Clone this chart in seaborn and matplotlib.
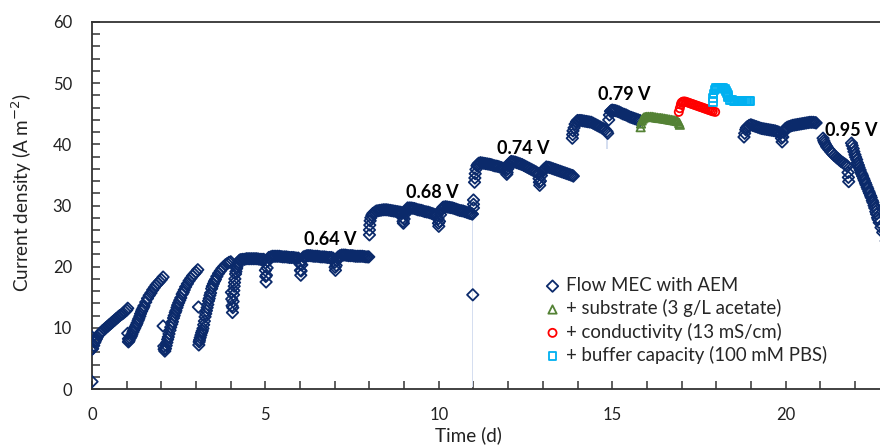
import pandas as pd
import matplotlib
matplotlib.use("Agg")
import matplotlib.pyplot as plt
from matplotlib.ticker import MultipleLocator
import seaborn as sns

# ---- data: time (d) and current density (A m-2) ----
# Flow MEC with AEM, one block per feeding cycle
c1_t = [0.0, 0.0, 0.0, 0.02, 0.05, 0.08, 0.1, 0.13, 0.15, 0.2, 0.25, 0.3, 0.35, 0.4, 0.45, 0.5, 0.55,
        0.6, 0.65, 0.7, 0.75, 0.8, 0.85, 0.9, 0.95, 1.0, 1.03]
c1_j = [1.2, 8.5, 6.5, 6.6, 7.1, 7.6, 7.9, 8.2, 8.5, 8.9, 9.2, 9.5, 9.75, 10.0, 10.25, 10.5, 10.75,
        11.0, 11.25, 11.5, 11.75, 12.0, 12.2, 12.4, 12.65, 12.9, 13.2]
c2_t = [1.03, 1.05, 1.05, 1.07, 1.1, 1.13, 1.15, 1.18, 1.2, 1.23, 1.25, 1.28, 1.3, 1.33, 1.35, 1.38,
        1.4, 1.43, 1.45, 1.48, 1.5, 1.55, 1.6, 1.65, 1.7, 1.75, 1.8, 1.85, 1.9, 1.95, 2.0, 2.05]
c2_j = [9.1, 7.7, 8.2, 7.9, 8.3, 8.6, 8.9, 9.3, 9.6, 9.9, 10.2, 10.5, 10.8, 11.2, 11.5, 11.9,
        12.3, 12.7, 13.0, 13.3, 13.6, 14.2, 14.8, 15.3, 15.7, 16.2, 16.6, 17.0, 17.3, 17.6, 17.9, 18.3]
c3_t = [2.05, 2.07, 2.08, 2.1, 2.12, 2.14, 2.16, 2.18, 2.2, 2.22, 2.25, 2.27, 2.3, 2.32, 2.35, 2.37,
        2.4, 2.42, 2.45, 2.47, 2.5, 2.53, 2.56, 2.6, 2.63, 2.66, 2.7, 2.75, 2.8, 2.85, 2.9, 2.95, 3.0, 3.05]
c3_j = [10.3, 7.0, 6.5, 6.2, 6.6, 7.1, 7.6, 8.1, 8.5, 9.0, 9.6, 10.1, 10.6, 11.0, 11.6, 12.0,
        12.5, 12.8, 13.3, 13.7, 14.1, 14.5, 14.9, 15.5, 15.8, 16.2, 16.7, 17.2, 17.7, 18.1, 18.5, 18.8, 19.1, 19.5]
c4_t = [3.07, 3.08, 3.09, 3.1, 3.12, 3.14, 3.16, 3.18, 3.2, 3.22, 3.24, 3.26, 3.28, 3.3, 3.32, 3.34,
        3.36, 3.38, 3.4, 3.42, 3.45, 3.47, 3.5, 3.53, 3.56, 3.6, 3.65, 3.7, 3.75, 3.8, 3.85, 3.9, 3.95, 4.0]
c4_j = [13.4, 7.2, 7.7, 8.0, 8.4, 8.8, 9.2, 9.5, 9.9, 10.5, 11.1, 11.8, 12.3, 12.8, 13.3, 13.8,
        14.4, 14.8, 15.3, 15.7, 16.4, 16.8, 17.2, 17.6, 17.9, 18.4, 18.9, 19.3, 19.7, 20.0, 20.3, 20.5, 20.7, 20.8]
c5_t = [4.02, 4.03, 4.04, 4.05, 4.06, 4.07, 4.08, 4.09, 4.1, 4.11, 4.12, 4.14, 4.15, 4.17, 4.18, 4.2,
        4.22, 4.25, 4.27, 4.3, 4.35, 4.4, 4.45, 4.5, 4.55, 4.6, 4.65, 4.7, 4.75, 4.8, 4.85, 4.9, 4.95]
c5_j = [15.8, 14.7, 13.6, 12.5, 13.3, 14.3, 15.4, 16.1, 16.8, 17.4, 18.0, 18.8, 19.2, 19.7, 20.0, 20.4,
        20.7, 21.0, 21.1, 21.15, 21.2, 21.2, 21.3, 21.3, 21.3, 21.3, 21.3, 21.3, 21.3, 21.25, 21.2, 21.2, 21.2]
c6_t = [5.0, 5.0, 5.01, 5.02, 5.03, 5.05, 5.07, 5.1, 5.15, 5.2, 5.25, 5.3, 5.35, 5.4, 5.45, 5.5,
        5.55, 5.6, 5.65, 5.7, 5.75, 5.8, 5.85, 5.9, 5.95]
c6_j = [20.6, 19.4, 18.4, 17.5, 18.6, 19.8, 20.9, 21.5, 21.6, 21.7, 21.7, 21.7, 21.7, 21.7, 21.65, 21.6,
        21.6, 21.6, 21.55, 21.5, 21.5, 21.5, 21.45, 21.4, 21.4]
c7_t = [6.0, 6.01, 6.02, 6.03, 6.05, 6.07, 6.1, 6.15, 6.2, 6.25, 6.3, 6.35, 6.4, 6.45, 6.5, 6.55,
        6.6, 6.65, 6.7, 6.75, 6.8, 6.85, 6.9, 6.95]
c7_j = [20.4, 19.4, 18.6, 19.3, 20.3, 21.1, 21.6, 21.7, 21.8, 21.8, 21.8, 21.75, 21.7, 21.7, 21.7, 21.65,
        21.6, 21.6, 21.6, 21.55, 21.5, 21.5, 21.5, 21.4]
c8_t = [7.0, 7.01, 7.02, 7.04, 7.06, 7.08, 7.1, 7.15, 7.2, 7.25, 7.3, 7.35, 7.4, 7.45, 7.5, 7.55,
        7.6, 7.65, 7.7, 7.75, 7.8, 7.85, 7.9, 7.95, 7.98]
c8_j = [20.7, 19.9, 19.4, 20.2, 21.0, 21.4, 21.6, 21.8, 21.9, 21.9, 21.9, 21.85, 21.8, 21.8, 21.8, 21.75,
        21.7, 21.7, 21.7, 21.7, 21.7, 21.65, 21.6, 21.6, 21.6]
c9_t = [8.0, 8.0, 8.01, 8.02, 8.04, 8.07, 8.1, 8.15, 8.2, 8.25, 8.3, 8.35, 8.4, 8.45, 8.5, 8.55,
        8.6, 8.65, 8.7, 8.75, 8.8, 8.85, 8.9, 8.94]
c9_j = [25.2, 26.0, 26.8, 27.5, 28.0, 28.4, 28.7, 28.9, 29.1, 29.15, 29.2, 29.25, 29.3, 29.3, 29.3, 29.25,
        29.2, 29.15, 29.1, 29.05, 29.0, 28.95, 28.9, 28.8]
c10_t = [8.96, 8.97, 8.98, 9.0, 9.03, 9.05, 9.07, 9.1, 9.15, 9.2, 9.25, 9.3, 9.35, 9.4, 9.45, 9.5,
         9.55, 9.6, 9.65, 9.7, 9.75, 9.8, 9.85, 9.9, 9.95]
c10_j = [28.0, 27.4, 27.1, 27.8, 28.6, 29.0, 29.3, 29.6, 29.6, 29.6, 29.55, 29.5, 29.4, 29.3, 29.25, 29.2,
         29.1, 29.0, 28.95, 28.9, 28.8, 28.7, 28.6, 28.5, 28.4]
c11_t = [9.98, 9.99, 10.0, 10.02, 10.05, 10.08, 10.1, 10.12, 10.15, 10.2, 10.25, 10.3, 10.35, 10.4, 10.45,
         10.5, 10.55, 10.6, 10.65, 10.7, 10.75, 10.8, 10.85, 10.9, 10.95, 10.97, 10.98, 11.0, 11.0, 11.0]
c11_j = [27.8, 27.1, 26.6, 27.4, 28.5, 29.3, 29.5, 29.7, 29.75, 29.8, 29.75, 29.7, 29.65, 29.6, 29.5,
         29.4, 29.3, 29.2, 29.15, 29.1, 29.0, 28.9, 28.8, 28.7, 28.65, 28.6, 15.4, 29.6, 30.2, 30.9]
c12_t = [11.03, 11.04, 11.05, 11.07, 11.1, 11.12, 11.15, 11.2, 11.25, 11.3, 11.35, 11.4, 11.45, 11.5,
         11.55, 11.6, 11.65, 11.7, 11.75, 11.8, 11.85, 11.9, 11.95, 11.96]
c12_j = [33.8, 34.5, 35.2, 35.9, 36.5, 36.7, 36.9, 37.0, 36.95, 36.9, 36.85, 36.8, 36.75, 36.7,
         36.6, 36.5, 36.45, 36.4, 36.3, 36.2, 36.1, 36.0, 35.8, 35.1]
c13_t = [11.97, 11.99, 12.02, 12.05, 12.08, 12.1, 12.15, 12.2, 12.25, 12.3, 12.35, 12.4, 12.45, 12.5,
         12.55, 12.6, 12.65, 12.7, 12.75, 12.8, 12.85, 12.87]
c13_j = [35.4, 36.0, 36.6, 37.0, 37.15, 37.2, 37.15, 37.1, 37.0, 36.9, 36.8, 36.7, 36.55, 36.4,
         36.25, 36.1, 35.95, 35.8, 35.65, 35.5, 35.3, 35.2]
c14_t = [12.89, 12.9, 12.91, 12.93, 12.96, 13.0, 13.03, 13.05, 13.1, 13.15, 13.2, 13.25, 13.3, 13.35,
         13.4, 13.45, 13.5, 13.55, 13.6, 13.65, 13.7, 13.75, 13.8, 13.85, 13.88]
c14_j = [34.4, 33.8, 33.3, 34.0, 34.9, 35.6, 35.85, 36.0, 36.3, 36.25, 36.2, 36.1, 36.0, 35.9,
         35.8, 35.7, 35.6, 35.5, 35.4, 35.3, 35.2, 35.1, 35.0, 34.9, 34.8]
c15_t = [13.85, 13.86, 13.87, 13.9, 13.93, 13.97, 14.0, 14.05, 14.1, 14.15, 14.2, 14.25, 14.3, 14.35,
         14.4, 14.45, 14.5, 14.55, 14.6, 14.65, 14.7, 14.75, 14.8, 14.85, 14.87]
c15_j = [41.0, 41.6, 42.2, 42.7, 43.3, 43.7, 43.9, 43.9, 43.9, 43.85, 43.8, 43.75, 43.7, 43.65,
         43.6, 43.45, 43.3, 43.15, 43.0, 42.85, 42.7, 42.55, 42.4, 42.1, 41.8]
c16_t = [14.9, 14.92, 14.95, 14.97, 15.0, 15.05, 15.1, 15.15, 15.2, 15.25, 15.3, 15.35, 15.4, 15.45,
         15.5, 15.55, 15.6, 15.65, 15.7, 15.75, 15.8]
c16_j = [44.0, 44.8, 45.4, 45.5, 45.6, 45.55, 45.5, 45.4, 45.3, 45.15, 45.0, 44.9, 44.8, 44.65,
         44.5, 44.4, 44.3, 44.2, 44.1, 44.0, 43.9]
c17_t = [18.8, 18.82, 18.85, 18.87, 18.9, 18.95, 19.0, 19.05, 19.1, 19.15, 19.2, 19.25, 19.3, 19.35,
         19.4, 19.45, 19.5, 19.55, 19.6, 19.65, 19.7, 19.75, 19.8, 19.86, 19.88, 19.9, 19.92, 19.95,
         19.97, 20.0, 20.05, 20.1, 20.15, 20.2, 20.25, 20.3, 20.35, 20.4, 20.45, 20.5, 20.55, 20.6,
         20.65, 20.7, 20.75, 20.8, 20.85, 20.88]
c17_j = [41.2, 41.8, 42.4, 42.7, 42.9, 43.1, 43.2, 43.1, 43.0, 42.9, 42.8, 42.7, 42.6, 42.55,
         42.5, 42.45, 42.4, 42.35, 42.3, 42.25, 42.2, 42.1, 42.0, 41.8, 41.0, 40.4, 41.2, 42.0,
         42.3, 42.6, 42.8, 42.9, 43.0, 43.1, 43.15, 43.2, 43.25, 43.3, 43.35, 43.4, 43.45, 43.5,
         43.55, 43.6, 43.6, 43.6, 43.55, 43.5]
c18_t = [21.08, 21.1, 21.12, 21.15, 21.18, 21.2, 21.25, 21.3, 21.35, 21.4, 21.45, 21.5, 21.55, 21.6,
         21.65, 21.7, 21.75, 21.78, 21.8, 21.81, 21.82]
c18_j = [41.0, 40.6, 40.3, 40.0, 39.7, 39.5, 39.15, 38.8, 38.5, 38.2, 37.95, 37.7, 37.45, 37.2,
         37.0, 36.8, 36.6, 36.4, 35.4, 34.6, 33.9]
c19_t = [21.9, 21.92, 21.95, 21.97, 22.0, 22.02, 22.05, 22.07, 22.1, 22.12, 22.15, 22.17, 22.2, 22.22,
         22.25, 22.27, 22.3, 22.32, 22.35, 22.37, 22.4, 22.42, 22.45, 22.47, 22.5, 22.52, 22.55, 22.57,
         22.6, 22.62, 22.65, 22.67, 22.7, 22.75, 22.8, 22.9]
c19_j = [40.2, 39.8, 39.3, 38.8, 38.3, 37.9, 37.5, 37.0, 36.6, 36.2, 35.8, 35.4, 35.1, 34.8,
         34.4, 34.1, 33.7, 33.4, 33.0, 32.7, 32.3, 32.0, 31.6, 31.3, 30.8, 30.5, 30.0, 29.6,
         29.0, 28.6, 28.0, 27.7, 27.2, 26.4, 25.6, 24.2]

# + substrate (3 g/L acetate)
sub_t = [15.82, 15.83, 15.85, 15.88, 15.92, 15.96, 16.0, 16.05, 16.1, 16.15, 16.2, 16.25, 16.3, 16.35,
         16.4, 16.45, 16.5, 16.55, 16.6, 16.65, 16.7, 16.75, 16.8, 16.85, 16.88, 16.93, 16.95]
sub_j = [42.8, 43.4, 43.9, 44.2, 44.4, 44.45, 44.5, 44.5, 44.5, 44.5, 44.45, 44.4, 44.35, 44.3,
         44.3, 44.25, 44.2, 44.15, 44.1, 44.05, 44.0, 43.95, 43.9, 43.85, 43.8, 43.5, 43.2]
# + conductivity (13 mS/cm)
cond_t = [16.92, 16.95, 16.98, 17.0, 17.03, 17.05, 17.1, 17.15, 17.2, 17.25, 17.3, 17.35, 17.4, 17.45,
          17.5, 17.55, 17.6, 17.65, 17.7, 17.75, 17.8, 17.85, 17.9, 17.97]
cond_j = [45.3, 45.9, 46.5, 46.8, 46.9, 47.0, 47.0, 46.9, 46.8, 46.7, 46.6, 46.5, 46.4, 46.3,
          46.2, 46.1, 46.0, 45.9, 45.8, 45.7, 45.6, 45.5, 45.4, 45.3]
# + buffer capacity (100 mM PBS)
buf_t = [17.9, 17.9, 17.92, 17.95, 17.98, 18.0, 18.05, 18.1, 18.15, 18.2, 18.25, 18.28, 18.3, 18.33,
         18.35, 18.4, 18.45, 18.5, 18.55, 18.6, 18.65, 18.7, 18.75, 18.8, 18.85, 18.9, 18.95, 18.98]
buf_j = [46.9, 47.6, 48.3, 48.9, 49.1, 49.2, 49.3, 49.3, 49.3, 49.2, 49.0, 48.7, 48.4, 48.0,
         47.7, 47.3, 47.2, 47.1, 47.1, 47.1, 47.1, 47.1, 47.1, 47.1, 47.1, 47.1, 47.1, 47.1]

# standard deviation shading (light blue) where it is visible
sd_t = [[1.55, 1.7, 1.85, 2.0], [2.55, 2.7, 2.85], [10.96, 11.0], [14.83, 14.88]]
sd_lo = [[13.6, 15.2, 16.4, 17.4], [14.0, 16.0, 17.5], [0.3, 0.3], [39.3, 39.3]]
sd_hi = [[15.8, 17.0, 18.3, 19.0], [15.9, 17.6, 19.0], [29.0, 29.0], [42.5, 42.5]]

# applied voltage labels
volt_labels = ["0.64 V", "0.68 V", "0.74 V", "0.79 V", "0.95 V"]
volt_t = [6.88, 9.8, 12.43, 15.35, 21.88]
volt_j = [24.4, 32.1, 39.4, 48.1, 42.3]

series_names = ["Flow MEC with AEM", "+ substrate (3 g/L acetate)",
                "+ conductivity (13 mS/cm)", "+ buffer capacity (100 mM PBS)"]


def main():
    sns.set_theme(style="ticks")
    plt.rcParams["font.family"] = ["Lato", "DejaVu Sans"]

    aem_t = (c1_t + c2_t + c3_t + c4_t + c5_t + c6_t + c7_t + c8_t + c9_t + c10_t + c11_t
             + c12_t + c13_t + c14_t + c15_t + c16_t + c17_t + c18_t + c19_t)
    aem_j = (c1_j + c2_j + c3_j + c4_j + c5_j + c6_j + c7_j + c8_j + c9_j + c10_j + c11_j
             + c12_j + c13_j + c14_j + c15_j + c16_j + c17_j + c18_j + c19_j)

    frames = []
    for name, t, j in zip(series_names, [aem_t, sub_t, cond_t, buf_t], [aem_j, sub_j, cond_j, buf_j]):
        frames.append(pd.DataFrame({"time": t, "current": j, "series": name}))
    df = pd.concat(frames, ignore_index=True)

    colors = {series_names[0]: "#0B2A6B", series_names[1]: "#548235",
              series_names[2]: "#FF0000", series_names[3]: "#00B0F0"}
    markers = {series_names[0]: "D", series_names[1]: "^",
               series_names[2]: "o", series_names[3]: "s"}
    sizes = {series_names[0]: 34, series_names[1]: 36,
             series_names[2]: 34, series_names[3]: 32}

    fig = plt.figure(figsize=(8.8, 4.46), dpi=100)
    px_day = 34.68
    ax_w = 25 * px_day
    ax = fig.add_axes([92 / 880, 57 / 446, ax_w / 880, 367 / 446])

    # error shading
    for t, lo, hi in zip(sd_t, sd_lo, sd_hi):
        ax.fill_between(t, lo, hi, color="#D5DEF0", lw=0, zorder=1)

    for name in series_names:
        sub = df[df["series"] == name]
        sns.scatterplot(data=sub, x="time", y="current", ax=ax, marker=markers[name],
                        s=sizes[name], color=colors[name], facecolor="none",
                        edgecolor=colors[name], linewidth=1.3, label=name, zorder=3)

    for lab, t, j in zip(volt_labels, volt_t, volt_j):
        ax.text(t, j, lab, ha="center", va="center", fontsize=13, fontweight="bold", color="black")

    ax.set_xlim(0, 25)
    ax.set_ylim(0, 60)
    ax.set_xticks([0, 5, 10, 15, 20])
    ax.xaxis.set_minor_locator(MultipleLocator(1))
    ax.yaxis.set_major_locator(MultipleLocator(10))
    ax.yaxis.set_minor_locator(MultipleLocator(2))
    ax.tick_params(which="both", direction="in", length=6, width=1.1, color="#333333",
                   top=False, right=False, labelsize=12, labelcolor="#222222")
    ax.tick_params(axis="y", pad=14.4)
    ax.tick_params(axis="x", pad=13)
    for sp in ["left", "bottom", "top"]:
        ax.spines[sp].set_linewidth(1.3)
        ax.spines[sp].set_color("#333333")

    ax.set_xlabel("Time (d)", fontsize=13.6, color="#222222")
    ax.set_ylabel(r"Current density (A m$^{-2}$)", fontsize=13.6, color="#222222")
    ax.xaxis.set_label_coords((468 - 92) / ax_w, -0.102)
    ax.yaxis.set_label_coords(-0.067, 0.535)

    ax.legend(loc="upper left", bbox_to_anchor=((546 - 92) / ax_w, (389 - 277) / 367),
              frameon=False, fontsize=13.4, handlelength=0.7, handletextpad=0.35,
              labelspacing=0.285, borderpad=0, borderaxespad=0)

    fig.savefig("out.png", dpi=100, facecolor="white")
    plt.close(fig)


if __name__ == "__main__":
    main()
